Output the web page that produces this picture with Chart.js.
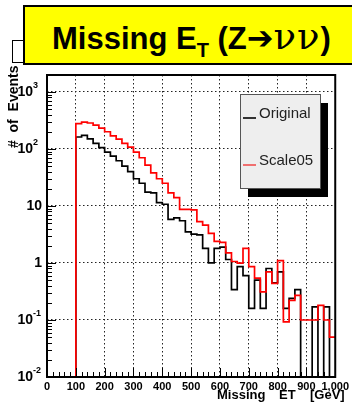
<!DOCTYPE html>
<html>
<head>
<meta charset="utf-8">
<script src="https://cdn.jsdelivr.net/npm/chart.js@4.4.1/dist/chart.umd.min.js"></script>
<style>
  html, body { margin: 0; padding: 0; background: #fff; }
  #cadre { position: relative; width: 352px; height: 405px; overflow: hidden; font-family: "Liberation Sans", Arial, sans-serif; }
  #graphique { position: absolute; left: 0; top: 0; }
  #stat { position: absolute; left: 12px; top: 40px; width: 20px; height: 21px; background: #fff; border: 1px solid #000; }
  #titre { position: absolute; left: 23px; top: 5px; width: 340px; height: 56px; background: #ffff00; border: 2px solid #000; }
  #titre span.txt { position: absolute; left: 27px; top: 14px; line-height: 31px; font-size: 31px; font-weight: bold; white-space: nowrap; color: #000; }
  #titre sub { font-size: 20px; vertical-align: -8px; line-height: 0; }
  #titre .fleche { font-family: "DejaVu Sans", sans-serif; font-size: 32px; }
  #titre .nu { font-family: "DejaVu Serif", serif; font-weight: normal; font-size: 37px; letter-spacing: 1px; }
</style>
</head>
<body>
<div id="cadre">
  <canvas id="graphique" width="352" height="405"></canvas>
  <div id="stat"></div>
  <div id="titre"><span class="txt">Missing E<sub>T</sub> (Z<span class="fleche">➔</span><span class="nu">νν</span>)</span></div>
</div>
<script>
// bornes basses des bins (GeV), largeur 20 GeV
const binLow = [0, 20, 40, 60, 80, 100, 120, 140, 160, 180,
  200, 220, 240, 260, 280, 300, 320, 340, 360, 380,
  400, 420, 440, 460, 480, 500, 520, 540, 560, 580,
  600, 620, 640, 660, 680, 700, 720, 740, 760, 780,
  800, 820, 840, 860, 880, 900, 920, 940, 960, 980];
const binHigh = 1000;

const original = [0, 0, 0, 0, 0, 162, 173, 150, 125, 105,
  88, 75, 62, 50, 40, 30, 25, 17.5, 17, 11.4,
  10.7, 5.8, 6.2, 5.5, 3.5, 3.2, 3.1, 1.8, 1.0, 1.8,
  1.9, 1.15, 0.34, 0.86, 0.6, 0.16, 0.5, 0.16, 0.8, 0.45,
  0.7, 0.16, 0.24, 0.34, 0, 0, 0.17, 0, 0.17, 0];

const scale05 = [0, 0, 0, 0, 0, 277, 296, 285, 262, 232,
  200, 170, 148, 125, 108, 88, 70, 52, 38, 30,
  25, 17, 14, 8.7, 8.7, 8.5, 5.3, 4.6, 3.3, 2.4,
  2.3, 1.5, 1.06, 0.99, 1.8, 0.86, 0.54, 0.31, 0.7, 0.44,
  1.1, 0.093, 0.22, 0.27, 0.1, 0.1, 0.1, 0.18, 0.1, 0.05];

const xTicks = [0, 100, 200, 300, 400, 500, 600, 700, 800, 900, 1000];
const yDecades = [-2, -1, 0, 1, 2, 3];
const yMin = 0.01;
const yMax = 1980;

// un bin vide reste collé au bas de l'axe log
function enEscalier(valeurs) {
  const pts = binLow.map((x, i) => ({ x: x, y: valeurs[i] > 0 ? valeurs[i] : yMin }));
  pts.push({ x: binHigh, y: pts[pts.length - 1].y });
  return pts;
}

const police = '"Liberation Sans", Arial, sans-serif';

const cadrePlugin = {
  id: 'cadreRoot',
  afterDraw(chart) {
    const ctx = chart.ctx;
    const a = chart.chartArea;
    const sx = chart.scales.x;
    const sy = chart.scales.y;
    ctx.save();
    ctx.strokeStyle = '#000';

    // graduations internes de l'axe y (log)
    ctx.lineWidth = 1;
    for (let e = -2; e <= 3; e++) {
      for (let m = 1; m <= 9; m++) {
        const v = m * Math.pow(10, e);
        if (v < yMin || v > yMax) continue;
        const py = Math.round(sy.getPixelForValue(v)) + 0.5;
        ctx.beginPath();
        ctx.moveTo(a.left, py);
        ctx.lineTo(a.left + (m === 1 ? 9 : 5), py);
        ctx.stroke();
      }
    }
    // graduations internes de l'axe x
    for (let g = 0; g <= 1000; g += 20) {
      const px = Math.round(sx.getPixelForValue(g)) + 0.5;
      ctx.beginPath();
      ctx.moveTo(px, a.bottom);
      ctx.lineTo(px, a.bottom - (g % 100 === 0 ? 9 : 5));
      ctx.stroke();
    }

    // cadre
    ctx.lineWidth = 2;
    ctx.strokeRect(a.left, a.top, a.right - a.left, a.bottom - a.top);

    // étiquettes de l'axe y en puissances de 10
    ctx.fillStyle = '#000';
    ctx.textBaseline = 'middle';
    yDecades.forEach(e => {
      const py = sy.getPixelForValue(Math.pow(10, e));
      if (e === 0 || e === 1) {
        ctx.font = 'bold 14px ' + police;
        ctx.textAlign = 'right';
        ctx.fillText(e === 0 ? '1' : '10', 42, py);
      } else {
        ctx.font = 'bold 9px ' + police;
        ctx.textAlign = 'left';
        ctx.fillText(String(e), 33, py - 6);
        ctx.font = 'bold 14px ' + police;
        ctx.textAlign = 'right';
        ctx.fillText('10', 33, py);
      }
    });

    // titre de l'axe y
    ctx.save();
    ctx.translate(18, 148);
    ctx.rotate(-Math.PI / 2);
    ctx.font = 'bold 14px ' + police;
    ctx.textAlign = 'left';
    ctx.textBaseline = 'alphabetic';
    ctx.fillText('#  of  Events', 0, 0);
    ctx.restore();

    // titre de l'axe x
    ctx.font = 'bold 13px ' + police;
    ctx.textAlign = 'left';
    ctx.textBaseline = 'alphabetic';
    ctx.fillText('Missing', 217, 399);
    ctx.fillText('ET', 279, 399);
    ctx.fillText('[GeV]', 310, 399);

    // légende avec ombre
    const lx = 240, ly = 94, lw = 80, lh = 94;
    ctx.fillStyle = '#000';
    ctx.fillRect(lx + 8, ly + 9, lw, lh);
    ctx.fillStyle = '#eeeeee';
    ctx.fillRect(lx, ly, lw, lh);
    ctx.lineWidth = 1;
    ctx.strokeStyle = '#555';
    ctx.strokeRect(lx + 0.5, ly + 0.5, lw, lh);

    const entrees = [
      { nom: 'Original', couleur: '#333', y: 118 },
      { nom: 'Scale05', couleur: '#f07070', y: 165 }
    ];
    ctx.font = '15px ' + police;
    entrees.forEach(en => {
      ctx.strokeStyle = en.couleur;
      ctx.lineWidth = 2;
      ctx.beginPath();
      ctx.moveTo(243, en.y);
      ctx.lineTo(256, en.y);
      ctx.stroke();
      ctx.fillStyle = '#222';
      ctx.fillText(en.nom, 259, en.y);
    });
    ctx.restore();
  }
};

const graphique = document.getElementById('graphique');

new Chart(graphique, {
  type: 'line',
  data: {
    datasets: [{
      label: 'Scale05',
      data: enEscalier(scale05),
      borderColor: '#ff0000',
      borderWidth: 1.7,
      stepped: 'before',
      pointRadius: 0,
      fill: false,
      order: 0
    }, {
      label: 'Original',
      data: enEscalier(original),
      borderColor: '#000000',
      borderWidth: 1.7,
      stepped: 'before',
      pointRadius: 0,
      fill: false,
      order: 1
    }]
  },
  options: {
    responsive: false,
    animation: false,
    devicePixelRatio: 1,
    layout: { padding: { top: 75, right: 14, left: 0, bottom: 0 } },
    plugins: {
      legend: { display: false },
      tooltip: { enabled: false }
    },
    scales: {
      x: {
        type: 'linear',
        min: 0,
        max: 1000,
        afterBuildTicks: s => { s.ticks = xTicks.map(v => ({ value: v })); },
        afterFit: s => { s.height = 28; },
        ticks: {
          autoSkip: false,
          maxRotation: 0,
          padding: 3,
          color: '#000',
          font: { family: police, size: 11, weight: 'bold' }
        },
        grid: {
          color: '#222',
          lineWidth: 1,
          drawTicks: false
        },
        border: { display: false, dash: [1.5, 2.5] }
      },
      y: {
        type: 'logarithmic',
        min: yMin,
        max: yMax,
        afterBuildTicks: s => { s.ticks = yDecades.map(e => ({ value: Math.pow(10, e) })); },
        afterFit: s => { s.width = 47; },
        ticks: { display: false },
        grid: {
          color: '#222',
          lineWidth: 1,
          drawTicks: false
        },
        border: { display: false, dash: [1.5, 2.5] }
      }
    }
  },
  plugins: [cadrePlugin]
});
</script>
</body>
</html>
